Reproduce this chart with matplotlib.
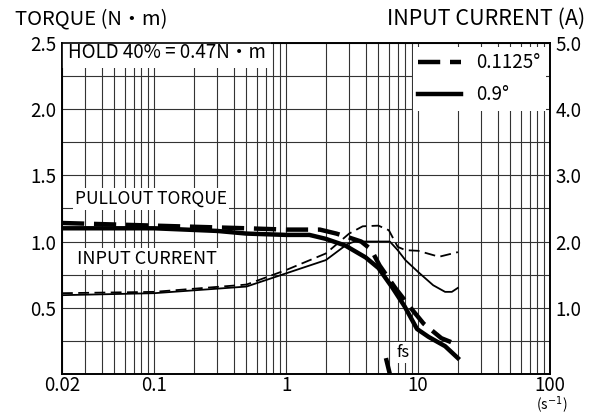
import matplotlib.pyplot as plt
from matplotlib.ticker import FixedLocator, NullFormatter

plt.rcParams['font.family'] = ['Noto Sans CJK JP', 'DejaVu Sans']

# pullout torque (N・m)
torque_09_x = [0.02, 0.1, 0.3, 0.5, 1.0, 1.5, 2.0, 2.8, 4.0, 5.0, 6.4, 7.9, 9.8, 12, 16, 20]
torque_09_y = [1.10, 1.10, 1.08, 1.06, 1.05, 1.05, 1.02, 0.97, 0.88, 0.80, 0.65, 0.51, 0.34, 0.28, 0.21, 0.12]
torque_01_x = [0.02, 0.1, 0.5, 1.0, 1.8, 2.4, 3.0, 3.7, 4.4, 5.1, 6.7, 8.6, 11, 15, 20]
torque_01_y = [1.14, 1.12, 1.10, 1.09, 1.09, 1.06, 1.03, 1.00, 0.94, 0.82, 0.65, 0.51, 0.38, 0.27, 0.22]

# input current (A)
current_09_x = [0.02, 0.1, 0.5, 1.0, 2.0, 2.9, 3.3, 6.1, 7.0, 8.0, 10, 13, 16, 18, 20]
current_09_y = [1.19, 1.22, 1.32, 1.52, 1.72, 1.96, 2.0, 2.0, 1.87, 1.72, 1.54, 1.34, 1.24, 1.24, 1.30]
current_01_x = [0.02, 0.1, 0.5, 1.0, 2.0, 3.0, 3.8, 5.0, 6.0, 7.0, 8.0, 10, 14.4, 20]
current_01_y = [1.22, 1.24, 1.35, 1.57, 1.82, 2.12, 2.23, 2.24, 2.17, 1.92, 1.87, 1.86, 1.77, 1.84]

# start frequency marker
fs_x = [5.7, 6.1]
fs_y = [0.12, 0.0]

x_ticks = [0.02, 0.1, 1, 10, 100]
x_labels = ["0.02", "0.1", "1", "10", "100"]
left_ticks = [0.5, 1.0, 1.5, 2.0, 2.5]
left_labels = ["0.5", "1.0", "1.5", "2.0", "2.5"]
right_ticks = [1.0, 2.0, 3.0, 4.0, 5.0]
right_labels = ["1.0", "2.0", "3.0", "4.0", "5.0"]

fig = plt.figure(figsize=(5.96, 4.16), dpi=100)
ax = fig.add_axes([0.104, 0.101, 0.819, 0.796])
ax2 = ax.twinx()

ax.set_xscale("log")
ax.set_xlim(0.02, 100)
ax.set_ylim(0, 2.5)
ax2.set_ylim(0, 5.0)

minor_x = []
for dec in [0.01, 0.1, 1, 10]:
    for m in range(2, 10):
        v = dec * m
        if 0.02 <= v <= 100:
            minor_x.append(v)
ax.xaxis.set_major_locator(FixedLocator(x_ticks))
ax.xaxis.set_minor_locator(FixedLocator(minor_x))
ax.xaxis.set_minor_formatter(NullFormatter())
ax.set_xticklabels(x_labels)
ax.set_yticks(left_ticks)
ax.set_yticklabels(left_labels)
ax.yaxis.set_minor_locator(FixedLocator([0.25, 0.75, 1.25, 1.75, 2.25]))
ax2.set_yticks(right_ticks)
ax2.set_yticklabels(right_labels)

ax.grid(which="both", color="#333333", linewidth=0.8)
ax.set_axisbelow(True)
for a in (ax, ax2):
    a.tick_params(which="both", length=0, labelsize=13.5, pad=4)
    for s in a.spines.values():
        s.set_linewidth(1.2)
ax.tick_params(axis="x", pad=1)

ax.plot(torque_01_x, torque_01_y, color="black", lw=3.2, ls=(0, (5, 2.2)),
        label="0.1125°")
ax.plot(torque_09_x, torque_09_y, color="black", lw=3.2, label="0.9°")
ax.plot(fs_x, fs_y, color="black", lw=3.2, solid_capstyle="butt")
ax2.plot(current_01_x, current_01_y, color="black", lw=1.3, ls=(0, (6, 3)))
ax2.plot(current_09_x, current_09_y, color="black", lw=1.3)

box = dict(facecolor="white", edgecolor="none", pad=1.5)
ax.text(0.0222, 2.43, "HOLD 40% = 0.47N・m", fontsize=13.5, va="center",
        bbox=dict(facecolor="white", edgecolor="none", pad=4))
ax.text(0.025, 1.32, "PULLOUT TORQUE", fontsize=12.5, va="center", bbox=box)
ax.text(0.026, 0.87, "INPUT CURRENT", fontsize=13, va="center", bbox=box)
ax.text(6.8, 0.16, "fs", fontsize=12, va="center", bbox=box)

leg = ax2.legend(handles=ax.get_lines()[:2], loc="upper right",
                 bbox_to_anchor=(1.0, 1.0), fontsize=13.5, frameon=True,
                 facecolor="white", edgecolor="none", framealpha=1,
                 handlelength=2.3, borderpad=0.3, labelspacing=0.6,
                 borderaxespad=0.2, fancybox=False)

fig.text(0.025, 0.955, "TORQUE (N・m)", fontsize=14.5, va="center")
fig.text(0.982, 0.955, "INPUT CURRENT (A)", fontsize=15.5, va="center", ha="right")
fig.text(0.925, 0.0, "(s$^{-1}$)", fontsize=10, va="bottom", ha="center")

fig.savefig("out.png", dpi=100)
